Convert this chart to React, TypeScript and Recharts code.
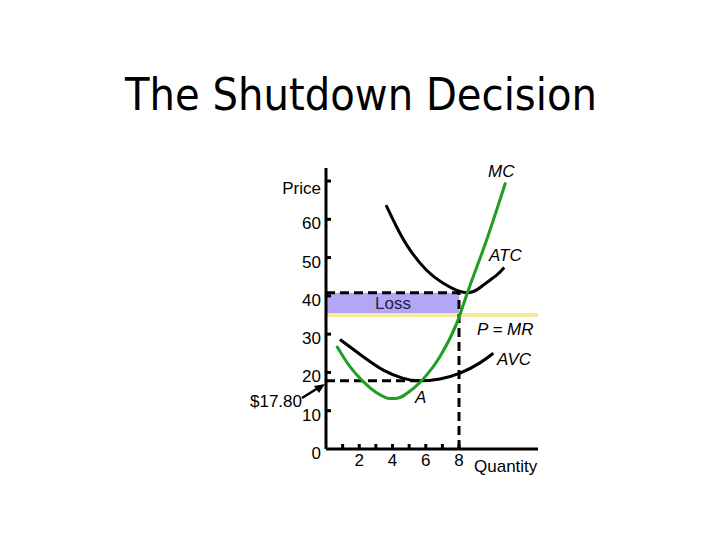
import { ComposedChart, Line, XAxis, YAxis, ReferenceArea, ReferenceLine } from 'recharts';

// quantity / price readings for each cost curve
const mcQ = [0.64, 1.44, 2.24, 3.05, 3.85, 4.15, 5.25, 6.05, 6.85, 7.86, 8.56, 9.66, 10.8];
const mcP = [26.9, 21.5, 17.6, 14.7, 13.2, 13.2, 15.8, 19.3, 24.1, 32.8, 41.5, 54.6, 69.6];

const atcQ = [3.61, 4.25, 5.05, 6.05, 7.05, 8.45, 9.46, 10.26, 10.72];
const atcP = [63.7, 58, 52, 46.7, 43.3, 40.8, 42.8, 45.4, 47.4];

const avcQ = [0.84, 2.24, 3.45, 4.6, 5.6, 6.85, 8.06, 9.26, 10.06];
const avcP = [28.6, 24.1, 20.6, 18.5, 17.8, 18.3, 19.8, 22.5, 25];

const price = 35;
const quantity = 8;
const atcAtQ = 40.8;
const avcMin = 17.8;
const avcMinQ = 5.6;

const yTicks = [0, 5, 10, 15, 20, 25, 30, 35, 40, 45, 50, 55, 60, 65, 70];
const yLabels = [0, 10, 20, 30, 40, 50, 60];
const xTicks = [1, 2, 3, 4, 5, 6, 7, 8];
const xLabels = [2, 4, 6, 8];

const toPoints = (qs: number[], ps: number[]) => qs.map((q, i) => ({ q, p: ps[i] }));

const mcData = toPoints(mcQ, mcP);
const atcData = toPoints(atcQ, atcP);
const avcData = toPoints(avcQ, avcP);

const FONT = '"Liberation Sans", Arial, sans-serif';

const YTick = (props: any) => {
    const { x, y, payload } = props;
    const v = payload.value;
    return (
        <g>
            {v !== 0 && <line x1={x} x2={x + 5} y1={y} y2={y} stroke="#000" strokeWidth={3} />}
            {yLabels.includes(v) && (
                <text x={x - 5} y={y + 4.5} textAnchor="end" dominantBaseline="central" fontSize={17} fontFamily={FONT} fill="#000">
                    {v}
                </text>
            )}
        </g>
    );
};

const XTick = (props: any) => {
    const { x, y, payload } = props;
    const v = payload.value;
    return (
        <g>
            <line x1={x} x2={x} y1={y} y2={y - 5} stroke="#000" strokeWidth={3} />
            {xLabels.includes(v) && (
                <text x={x} y={y + 11} textAnchor="middle" dominantBaseline="central" fontSize={17} fontFamily={FONT} fill="#000">
                    {v}
                </text>
            )}
        </g>
    );
};

const dash = '9 5';

export default function App() {
    return (
        <div style={{ position: 'absolute', left: 0, top: 0, width: 720, height: 540, background: '#fff' }}>
            <ComposedChart width={720} height={540} margin={{ top: 168, right: 182, bottom: 90, left: 325 }}>
                <XAxis
                    type="number"
                    dataKey="q"
                    domain={[0, 12.75]}
                    ticks={xTicks}
                    allowDataOverflow
                    height={1}
                    tickSize={0}
                    tickMargin={0}
                    tickLine={false}
                    tick={<XTick />}
                    axisLine={{ stroke: '#000', strokeWidth: 3 }}
                />
                <YAxis
                    type="number"
                    dataKey="p"
                    domain={[0, 73.4]}
                    ticks={yTicks}
                    allowDataOverflow
                    width={1}
                    tickSize={0}
                    tickMargin={0}
                    tickLine={false}
                    tick={<YTick />}
                    axisLine={{ stroke: '#000', strokeWidth: 3 }}
                />
                <ReferenceLine y={price} stroke="#f7e99a" strokeWidth={4} />
                <ReferenceArea x1={0} x2={quantity} y1={price + 0.5} y2={atcAtQ} fill="#b3a6f5" fillOpacity={1} stroke="none" />
                <ReferenceLine segment={[{ x: 0, y: atcAtQ }, { x: quantity, y: atcAtQ }]} stroke="#000" strokeWidth={3} strokeDasharray={dash} />
                <ReferenceLine segment={[{ x: quantity, y: 0 }, { x: quantity, y: atcAtQ }]} stroke="#000" strokeWidth={3} strokeDasharray={dash} />
                <ReferenceLine segment={[{ x: 0, y: avcMin }, { x: avcMinQ, y: avcMin }]} stroke="#000" strokeWidth={3} strokeDasharray={dash} />
                <Line data={avcData} dataKey="p" type="natural" stroke="#000" strokeWidth={3} dot={false} isAnimationActive={false} />
                <Line data={atcData} dataKey="p" type="natural" stroke="#000" strokeWidth={3} dot={false} isAnimationActive={false} />
                <Line data={mcData} dataKey="p" type="monotone" stroke="#1f9e1f" strokeWidth={3} dot={false} isAnimationActive={false} />
            </ComposedChart>
            <svg width={720} height={540} style={{ position: 'absolute', left: 0, top: 0, pointerEvents: 'none' }}>
                <text x={125} y={110} fontSize={45} fontFamily='"DejaVu Sans", sans-serif' textLength={472} lengthAdjust="spacingAndGlyphs" fill="#000">
                    The Shutdown Decision
                </text>
                <g fontFamily={FONT} fontSize={17} fill="#000" dominantBaseline="central">
                    <text x={321} y={188} textAnchor="end">Price</text>
                    <text x={488} y={171} fontStyle="italic">MC</text>
                    <text x={489} y={255} fontStyle="italic">ATC</text>
                    <text x={393} y={303.5} textAnchor="middle" fill="#20204a">Loss</text>
                    <text x={477} y={329} fontStyle="italic">P = MR</text>
                    <text x={497} y={359} fontStyle="italic">AVC</text>
                    <text x={415} y={397} fontStyle="italic">A</text>
                    <text x={302} y={401} textAnchor="end">$17.80</text>
                    <text x={474} y={466}>Quantity</text>
                </g>
                <line x1={302} y1={398} x2={318} y2={388} stroke="#000" strokeWidth={2.5} />
                <polygon points="325,384 314,386 319,393" fill="#000" />
            </svg>
        </div>
    );
}
